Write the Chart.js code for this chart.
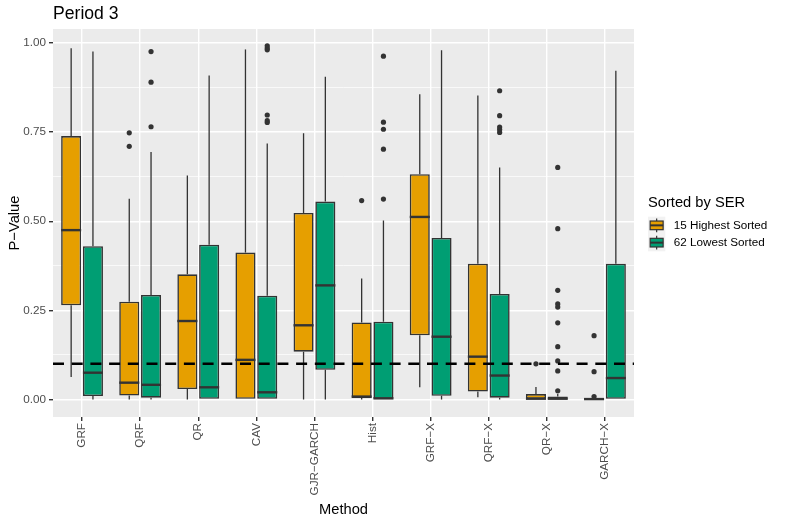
<!DOCTYPE html>
<html>
<head>
<meta charset="utf-8">
<script src="https://cdn.jsdelivr.net/npm/chart.js@4.4.0/dist/chart.umd.min.js"></script>
<style>
  html, body { margin: 0; background: #fff; }
  #wrap { width: 785px; height: 523px; }
</style>
</head>
<body>
<div id="wrap"><canvas id="chart"></canvas></div>
<script>
const METHODS = ["GRF", "QRF", "QR", "CAV", "GJR\u2212GARCH", "Hist", "GRF\u2212X", "QRF\u2212X", "QR\u2212X", "GARCH\u2212X"];
const SERIES_LABELS = ["15 Highest Sorted", "62 Lowest Sorted"];
const Y_TICKS = [0, 0.25, 0.5, 0.75, 1];

// 15 highest sorted
const highLowWhisker = [0.063, 0, 0, 0, 0, 0, 0.034, 0.006, 0, 0];
const highQ1 = [0.264, 0.011, 0.029, 0, 0.134, 0.004, 0.180, 0.022, 0, 0];
const highMedian = [0.475, 0.047, 0.220, 0.111, 0.208, 0.008, 0.512, 0.120, 0.002, 0.001];
const highQ3 = [0.739, 0.274, 0.351, 0.412, 0.523, 0.216, 0.632, 0.381, 0.015, 0.004];
const highHighWhisker = [0.985, 0.563, 0.628, 0.982, 0.747, 0.339, 0.856, 0.853, 0.035, 0.005];
const highOutliers = [[], [0.748, 0.710], [], [], [], [0.558], [], [], [0.100], [0.179, 0.078, 0.008]];

// 62 lowest sorted
const lowLowWhisker = [0, 0, 0, 0, 0, 0, 0, 0, 0, 0];
const lowQ1 = [0.0095, 0.005, 0, 0, 0.083, 0, 0.010, 0.005, 0, 0];
const lowMedian = [0.075, 0.041, 0.034, 0.020, 0.320, 0.003, 0.176, 0.067, 0.002, 0.060];
const lowQ3 = [0.430, 0.293, 0.434, 0.291, 0.555, 0.218, 0.453, 0.296, 0.008, 0.381];
const lowHighWhisker = [0.976, 0.694, 0.909, 0.718, 0.905, 0.502, 0.980, 0.651, 0.015, 0.922];
const lowOutliers = [[], [0.976, 0.890, 0.765], [], [0.992, 0.986, 0.981, 0.798, 0.782, 0.777], [],
  [0.963, 0.778, 0.758, 0.702, 0.562], [], [0.866, 0.796, 0.764, 0.757, 0.749],
  [0.651, 0.479, 0.306, 0.268, 0.259, 0.215, 0.148, 0.108, 0.080, 0.024], []];

const THRESHOLD = 0.1;

const ORANGE = "#E69F00";
const GREEN = "#009E73";
const EDGE = "#333333";
const FONT = "'Liberation Sans', Arial, sans-serif";

const extras = [
  { lo: highLowWhisker, hi: highHighWhisker, q1: highQ1, q3: highQ3, med: highMedian, out: highOutliers },
  { lo: lowLowWhisker, hi: lowHighWhisker, q1: lowQ1, q3: lowQ3, med: lowMedian, out: lowOutliers },
];

const boxPlugin = {
  id: "boxExtras",
  beforeDraw(chart) {
    const { ctx, chartArea: a } = chart;
    ctx.save();
    ctx.fillStyle = "#EBEBEB";
    ctx.fillRect(a.left, a.top, a.right - a.left, a.bottom - a.top);
    ctx.restore();
  },
  beforeDatasetsDraw(chart) {
    // whiskers sit behind the boxes
    const { ctx } = chart;
    const y = chart.scales.y;
    ctx.save();
    ctx.strokeStyle = EDGE;
    ctx.lineWidth = 1.3;
    extras.forEach((ex, di) => {
      chart.getDatasetMeta(di).data.forEach((el, i) => {
        const x = el.x;
        ctx.beginPath();
        ctx.moveTo(x, y.getPixelForValue(ex.lo[i]));
        ctx.lineTo(x, y.getPixelForValue(ex.q1[i]));
        ctx.moveTo(x, y.getPixelForValue(ex.q3[i]));
        ctx.lineTo(x, y.getPixelForValue(ex.hi[i]));
        ctx.stroke();
      });
    });
    ctx.restore();
  },
  afterDatasetsDraw(chart) {
    const { ctx, chartArea: a } = chart;
    const y = chart.scales.y;
    ctx.save();
    extras.forEach((ex, di) => {
      chart.getDatasetMeta(di).data.forEach((el, i) => {
        const { x, width } = el.getProps(["x", "width"], true);
        const my = y.getPixelForValue(ex.med[i]);
        ctx.strokeStyle = EDGE;
        ctx.lineWidth = 2.4;
        ctx.beginPath();
        ctx.moveTo(x - width / 2, my);
        ctx.lineTo(x + width / 2, my);
        ctx.stroke();
        ctx.fillStyle = EDGE;
        ex.out[i].forEach(v => {
          ctx.beginPath();
          ctx.arc(x, y.getPixelForValue(v), 2.6, 0, Math.PI * 2);
          ctx.fill();
        });
      });
    });
    // dashed reference line
    const ty = y.getPixelForValue(THRESHOLD);
    ctx.strokeStyle = "#000";
    ctx.lineWidth = 2.6;
    ctx.setLineDash([11, 7.7]);
    ctx.beginPath();
    ctx.moveTo(a.left, ty);
    ctx.lineTo(a.right, ty);
    ctx.stroke();
    ctx.restore();
  },
  afterDraw(chart) {
    const { ctx, chartArea: a } = chart;
    ctx.save();
    ctx.fillStyle = "#000";
    ctx.textBaseline = "alphabetic";
    ctx.textAlign = "left";
    ctx.font = `17.6px ${FONT}`;
    ctx.fillText("Period 3", a.left, 19);

    ctx.font = `14.7px ${FONT}`;
    ctx.textAlign = "center";
    ctx.fillText("Method", (a.left + a.right) / 2, 514);
    ctx.save();
    ctx.translate(19, (a.top + a.bottom) / 2);
    ctx.rotate(-Math.PI / 2);
    ctx.fillText("P\u2212Value", 0, 0);
    ctx.restore();

    // legend
    const lx = 648, ly = 216.7, k = 17.3;
    ctx.textAlign = "left";
    ctx.fillText("Sorted by SER", lx, 207);
    [ORANGE, GREEN].forEach((col, j) => {
      const top = ly + j * k;
      ctx.fillStyle = "#F2F2F2";
      ctx.fillRect(lx, top, k, k);
      const cx = lx + k / 2;
      ctx.strokeStyle = EDGE;
      ctx.lineWidth = 1.2;
      ctx.beginPath();
      ctx.moveTo(cx, top + k * 0.1);
      ctx.lineTo(cx, top + k * 0.9);
      ctx.stroke();
      ctx.fillStyle = col;
      ctx.fillRect(lx + k * 0.125, top + k * 0.25, k * 0.75, k * 0.5);
      ctx.strokeRect(lx + k * 0.125, top + k * 0.25, k * 0.75, k * 0.5);
      ctx.lineWidth = 2;
      ctx.beginPath();
      ctx.moveTo(lx + k * 0.125, top + k / 2);
      ctx.lineTo(lx + k * 0.875, top + k / 2);
      ctx.stroke();
      ctx.fillStyle = "#000";
      ctx.font = `11.7px ${FONT}`;
      ctx.textBaseline = "middle";
      ctx.fillText(SERIES_LABELS[j], lx + k + 8.5, top + k / 2);
      ctx.textBaseline = "alphabetic";
    });
    ctx.restore();
  },
};

new Chart(document.getElementById("chart"), {
  type: "bar",
  data: {
    labels: METHODS,
    datasets: [
      {
        label: SERIES_LABELS[0],
        data: highQ1.map((q, i) => [q, highQ3[i]]),
        backgroundColor: ORANGE,
        borderColor: EDGE,
        borderWidth: 1.6,
        borderSkipped: false,
      },
      {
        label: SERIES_LABELS[1],
        data: lowQ1.map((q, i) => [q, lowQ3[i]]),
        backgroundColor: GREEN,
        borderColor: EDGE,
        borderWidth: 1.6,
        borderSkipped: false,
      },
    ],
  },
  options: {
    responsive: true,
    maintainAspectRatio: false,
    animation: false,
    devicePixelRatio: 1,
    categoryPercentage: 0.75,
    barPercentage: 0.92,
    layout: { padding: { top: 29, right: 151, left: 0, bottom: 0 } },
    plugins: {
      legend: { display: false },
      title: { display: false },
      tooltip: { enabled: false },
    },
    scales: {
      x: {
        grid: {
          offset: false,
          color: "#FFFFFF",
          lineWidth: 1.4,
          tickLength: 4,
          tickColor: EDGE,
        },
        border: { display: false },
        ticks: {
          color: "#4D4D4D",
          font: { family: FONT, size: 11.7 },
          minRotation: 90,
          maxRotation: 90,
          autoSkip: false,
          padding: 2,
        },
        afterFit: (s) => { s.height = 106; },
      },
      y: {
        min: -0.0493,
        max: 1.0393,
        afterBuildTicks: (s) => {
          const vals = [];
          for (let v = 0; v <= 1.0001; v += 0.125) vals.push({ value: Math.round(v * 1000) / 1000 });
          s.ticks = vals;
        },
        grid: {
          color: "#FFFFFF",
          lineWidth: (c) => (Y_TICKS.includes(c.tick && c.tick.value) ? 1.4 : 0.7),
          tickLength: 4,
          tickColor: (c) => (Y_TICKS.includes(c.tick && c.tick.value) ? EDGE : "rgba(0,0,0,0)"),
        },
        border: { display: false },
        ticks: {
          color: "#4D4D4D",
          font: { family: FONT, size: 11.7 },
          padding: 3,
          callback: (v) => (Y_TICKS.includes(v) ? v.toFixed(2) : ""),
        },
        afterFit: (s) => { s.width = 53; },
      },
    },
  },
  plugins: [boxPlugin],
});
</script>
</body>
</html>
